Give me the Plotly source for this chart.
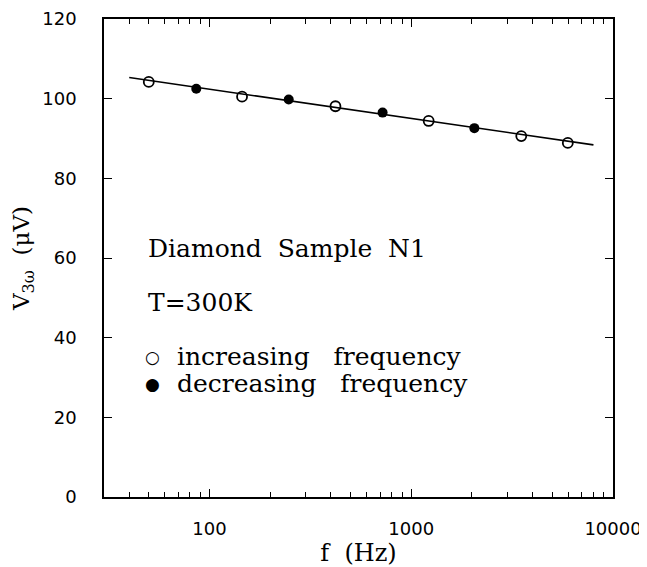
import plotly.graph_objects as go

# Data
inc_f = [50, 145, 421, 1220, 3510, 5970]
inc_v = [104.2, 100.5, 98.1, 94.4, 90.6, 88.9]
dec_f = [86, 247, 721, 2055]
dec_v = [102.5, 99.8, 96.5, 92.6]
fit_f = [40, 8000]
fit_v = [105.3, 88.4]

x_tickvals = [100, 1000, 10000]
x_ticktext = ["100", "1000", "10000"]
y_tickvals = [0, 20, 40, 60, 80, 100, 120]

SERIF = "DejaVu Serif"
SANS = "DejaVu Sans"
NB = "\u00a0"

# page body has an 8px default margin; compensate so the plot lands where intended
OFF = 8
W, H = 647 - OFF, 567 - OFF
L, R, T, B = 104 - OFF, 34, 19 - OFF, 70
pw, ph = W - L - R, H - T - B


def px(x):
    return (x - OFF - L) / pw


def py(y):
    return 1 - (y - OFF - T) / ph


fig = go.Figure()
fig.add_trace(go.Scatter(x=fit_f, y=fit_v, mode="lines",
                         line=dict(color="black", width=1.6), showlegend=False))
fig.add_trace(go.Scatter(x=inc_f, y=inc_v, mode="markers", name="increasing frequency",
                         showlegend=False,
                         marker=dict(symbol="circle-open", size=10, color="black",
                                     line=dict(width=1.8, color="black"))))
fig.add_trace(go.Scatter(x=dec_f, y=dec_v, mode="markers", name="decreasing frequency",
                         showlegend=False,
                         marker=dict(symbol="circle", size=10, color="black")))

text_font = dict(family=SERIF, size=25, color="black")
labels = [
    (146, 248, "Diamond" + NB * 2 + "Sample" + NB * 2 + "N1"),
    (146, 302, "T=300K"),
    (175, 356, "increasing" + NB * 3 + "frequency"),
    (175, 383, "decreasing" + NB * 3 + "frequency"),
]
for x, y, t in labels:
    fig.add_annotation(x=px(x), y=py(y), xref="paper", yref="paper", text=t,
                       showarrow=False, xanchor="left", yanchor="middle", font=text_font)
# legend symbols
fig.add_annotation(x=px(152), y=py(357), xref="paper", yref="paper", text="○",
                   showarrow=False, xanchor="center", yanchor="middle",
                   font=dict(family="DejaVu Sans", size=17, color="black"))
fig.add_annotation(x=px(152), y=py(384), xref="paper", yref="paper", text="●",
                   showarrow=False, xanchor="center", yanchor="middle",
                   font=dict(family="DejaVu Sans", size=17, color="black"))

fig.update_layout(
    width=W, height=H,
    margin=dict(l=L, r=R, t=T, b=B),
    plot_bgcolor="white", paper_bgcolor="white",
    showlegend=False,
    xaxis=dict(type="log", range=[1.4771, 4], tickvals=x_tickvals, ticktext=x_ticktext,
               ticks="inside", ticklen=8, tickwidth=1.3, tickcolor="black",
               minor=dict(ticks="inside", ticklen=5, tickwidth=1.1, tickcolor="black",
                          dtick="D1", showgrid=False),
               showline=True, linecolor="black", linewidth=1.6, mirror="ticks",
               showgrid=False, zeroline=False, ticklabelstandoff=15, automargin=False,
               tickfont=dict(family=SANS, size=18, color="black"),
               title=dict(text="f" + NB * 2 + "(Hz)", font=dict(family=SERIF, size=24, color="black"),
                          standoff=7)),
    yaxis=dict(range=[0, 120], tickvals=y_tickvals,
               ticks="inside", ticklen=8, tickwidth=1.3, tickcolor="black",
               showline=True, linecolor="black", linewidth=1.6, mirror="ticks",
               showgrid=False, zeroline=False, ticklabelstandoff=22, automargin=False,
               tickfont=dict(family=SANS, size=18, color="black"),
               title=dict(text="V<sub>3ω</sub>" + NB * 2 + "(μV)", font=dict(family=SERIF, size=23, color="black"),
                          standoff=6)),
)

fig.write_html("out.html")
